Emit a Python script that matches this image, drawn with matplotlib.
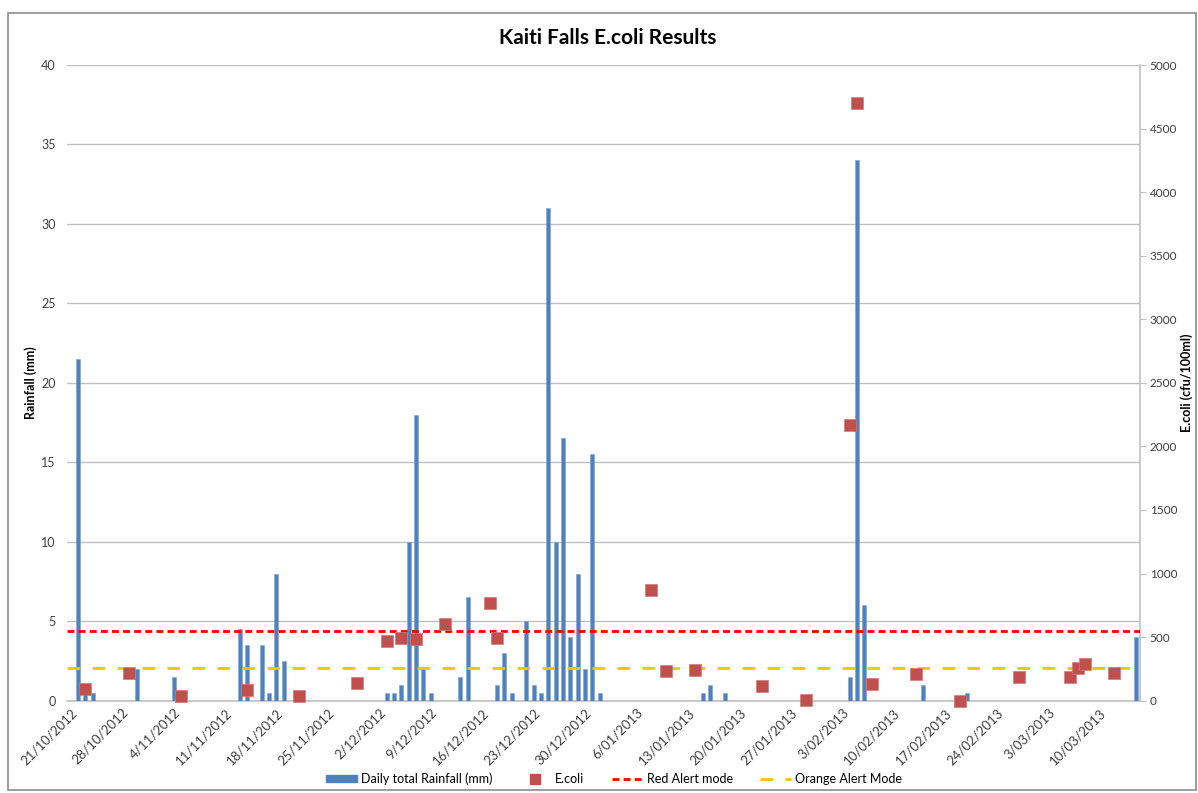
import matplotlib
matplotlib.use("Agg")
import matplotlib.pyplot as plt
from matplotlib.lines import Line2D
from matplotlib.patches import Patch, Rectangle
from datetime import datetime, timedelta

plt.rcParams["font.family"] = ["Lato", "DejaVu Sans"]

# Daily total rainfall (mm) - only days with rain
rain_dates = [
    "2012-10-22", "2012-10-23", "2012-10-24", "2012-10-30", "2012-11-04",
    "2012-11-13", "2012-11-14", "2012-11-16", "2012-11-17", "2012-11-18",
    "2012-11-19", "2012-12-03", "2012-12-04", "2012-12-05", "2012-12-06",
    "2012-12-07", "2012-12-08", "2012-12-09", "2012-12-13", "2012-12-14",
    "2012-12-18", "2012-12-19", "2012-12-20", "2012-12-22", "2012-12-23",
    "2012-12-24", "2012-12-25", "2012-12-26", "2012-12-27", "2012-12-28",
    "2012-12-29", "2012-12-30", "2012-12-31", "2013-01-01", "2013-01-15",
    "2013-01-16", "2013-01-18", "2013-02-04", "2013-02-05", "2013-02-06",
    "2013-02-14", "2013-02-20", "2013-03-15",
]
rain_mm = [
    21.5, 0.5, 0.5, 2.0, 1.5,
    4.5, 3.5, 3.5, 0.5, 8.0,
    2.5, 0.5, 0.5, 1.0, 10.0,
    18.0, 2.0, 0.5, 1.5, 6.5,
    1.0, 3.0, 0.5, 5.0, 1.0,
    0.5, 31.0, 10.0, 16.5, 4.0,
    8.0, 2.0, 15.5, 0.5, 0.5,
    1.0, 0.5, 1.5, 34.0, 6.0,
    1.0, 0.5, 4.0,
]

# E.coli samples (cfu/100ml)
ecoli_dates = [
    "2012-10-23", "2012-10-29", "2012-11-05", "2012-11-14", "2012-11-21",
    "2012-11-29", "2012-12-03", "2012-12-05", "2012-12-07", "2012-12-11",
    "2012-12-17", "2012-12-18", "2013-01-08", "2013-01-10", "2013-01-14",
    "2013-01-23", "2013-01-29", "2013-02-04", "2013-02-05", "2013-02-07",
    "2013-02-13", "2013-02-19", "2013-02-27", "2013-03-06", "2013-03-07",
    "2013-03-08", "2013-03-12",
]
ecoli = [
    95, 220, 40, 85, 40,
    140, 470, 490, 485, 605,
    770, 490, 870, 235, 245,
    115, 5, 2165, 4700, 135,
    210, 0, 190, 190, 260,
    290, 220,
]

RED_ALERT = 550
ORANGE_ALERT = 260

rain_x = [datetime.strptime(d, "%Y-%m-%d") for d in rain_dates]
ecoli_x = [datetime.strptime(d, "%Y-%m-%d") for d in ecoli_dates]
start = datetime(2012, 10, 21)
end = datetime(2013, 3, 15)

fig = plt.figure(figsize=(11.98, 7.93), dpi=100)
ax = fig.add_axes([67 / 1198, 1 - 700.7 / 793, (1140 - 67) / 1198, (700.7 - 65) / 793])
ax2 = ax.twinx()

# rainfall bars on the left axis
ax.bar(rain_x, rain_mm, width=0.55, color="#4F81BD",
       edgecolor="#7fa3d3", linewidth=0.4, zorder=3)
ax.set_ylim(0, 40)
ax.set_yticks(range(0, 41, 5))
ax.grid(axis="y", color="#c0c0c0", linewidth=1.0, zorder=0)
ax.set_axisbelow(True)
ax.set_xlim(start - timedelta(hours=12), end + timedelta(hours=12))

ticks = [start + timedelta(days=7 * i) for i in range(21)]
ax.set_xticks(ticks)
ax.set_xticklabels([f"{t.day}/{t.month:02d}/{t.year}" for t in ticks],
                   rotation=45, ha="right", va="top", rotation_mode="anchor",
                   fontsize=9.5, color="#404040")
ax.tick_params(axis="x", length=0, pad=4)
ax.tick_params(axis="y", length=0, labelsize=9, labelcolor="#404040", pad=8)

for s in ("top", "left", "right"):
    ax.spines[s].set_visible(False)
ax.spines["bottom"].set_color("#c0c0c0")
ax.spines["bottom"].set_linewidth(1.2)

ax.set_ylabel("Rainfall (mm)", fontsize=9, fontweight="bold")
ax.yaxis.set_label_coords(-(67 - 37) / 1073, 0.5)

# E.coli squares and alert lines on the right axis
ax2.plot(ecoli_x, ecoli, linestyle="none", marker="s", markersize=8.5,
         color="#C0504D", markeredgecolor="#d07a78", markeredgewidth=0.5,
         clip_on=False, zorder=5)
ax2.axhline(RED_ALERT, color="#FF0000", linewidth=2.0,
            linestyle=(0, (2.5, 1.5)), zorder=4)
ax2.axhline(ORANGE_ALERT, color="#FFC000", linewidth=2.0,
            linestyle=(0, (4.5, 4.5)), zorder=4)
ax2.set_ylim(0, 5000)
ax2.set_yticks(range(0, 5001, 500))
ax2.tick_params(axis="y", length=4, color="#c0c0c0", labelsize=8.5,
                labelcolor="#404040", pad=3)
for s in ("top", "left", "bottom"):
    ax2.spines[s].set_visible(False)
ax2.spines["right"].set_color("#c0c0c0")
ax2.spines["right"].set_linewidth(1.2)
ax2.set_ylabel("E.coli (cfu/100ml)", fontsize=9, fontweight="bold", rotation=90)
ax2.yaxis.set_label_coords((1180 - 67) / 1073, 0.5)

fig.text(608 / 1198, 1 - 38 / 793, "Kaiti Falls E.coli Results",
         ha="center", va="center", fontsize=15, fontweight="bold")

handles = [
    Patch(facecolor="#4F81BD", edgecolor="#4F81BD"),
    Line2D([], [], linestyle="none", marker="s", markersize=7, color="#C0504D"),
    Line2D([], [], color="#FF0000", linewidth=2.0, linestyle=(0, (2.5, 1.5))),
    Line2D([], [], color="#FFC000", linewidth=2.0, linestyle=(0, (4.5, 4.5))),
]
labels = ["Daily total Rainfall (mm)", "E.coli", "Red Alert mode", "Orange Alert Mode"]
fig.legend(handles, labels, loc="center", bbox_to_anchor=(614 / 1198, 1 - 779 / 793),
           ncol=4, frameon=False, fontsize=9, handlelength=2.5, handleheight=0.5,
           columnspacing=2.2, handletextpad=0.3, borderpad=0.2)

# chart border
fig.add_artist(Rectangle((8 / 1198, 3 / 793), (1196 - 8) / 1198, (790 - 13) / 793,
                         transform=fig.transFigure, fill=False,
                         edgecolor="#8c8c8c", linewidth=1.2))

fig.savefig("out.png", dpi=100)
